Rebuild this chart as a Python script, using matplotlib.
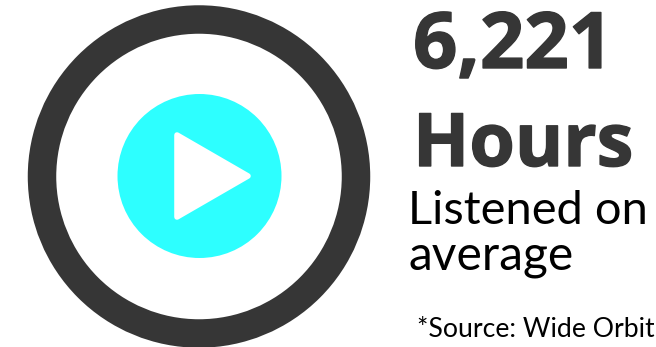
import matplotlib
matplotlib.use("Agg")
import matplotlib.pyplot as plt
import matplotlib.patheffects as pe
from matplotlib.patches import Circle, Polygon

# headline figure and captions
value_label = "6,221"
unit_label = "Hours"
caption_lines = ["Listened on", "average"]
source_label = "*Source: Wide Orbit"

plt.rcParams['font.family'] = ['Open Sans', 'DejaVu Sans']
lato = ['Lato', 'DejaVu Sans']
# thickens the headline strokes a little
heavy = [pe.withStroke(linewidth=1.0, foreground='#363636')]

fig = plt.figure(figsize=(6.56, 3.47), dpi=100)
ax = fig.add_axes([0, 0, 1, 1])
ax.set_xlim(0, 656)
ax.set_ylim(347, 0)
ax.axis('off')

# ring and play button
ax.add_patch(Circle((199, 176.5), 157, facecolor='white', edgecolor='#363636', linewidth=20.5))
ax.add_patch(Circle((199.5, 176), 82, facecolor='#2dffff', edgecolor='none'))
ax.add_patch(Polygon([(177, 135), (248, 176), (177, 217)], closed=True, facecolor='white',
                     edgecolor='white', linewidth=4, joinstyle='round'))

ax.text(413, 68, value_label, fontsize=56, fontweight='bold', color='#363636', va='baseline', ha='left', path_effects=heavy)
ax.text(413, 166, unit_label, fontsize=53, fontweight='bold', color='#363636', va='baseline', ha='left', path_effects=heavy)
ax.text(408, 224, caption_lines[0], fontsize=33.8, family=lato, color='black', va='baseline', ha='left')
ax.text(408, 269, caption_lines[1], fontsize=34.5, family=lato, color='black', va='baseline', ha='left')
ax.text(417, 337, source_label, fontsize=19.2, family=lato, color='black', va='baseline', ha='left')

fig.savefig('out.png', dpi=100)
